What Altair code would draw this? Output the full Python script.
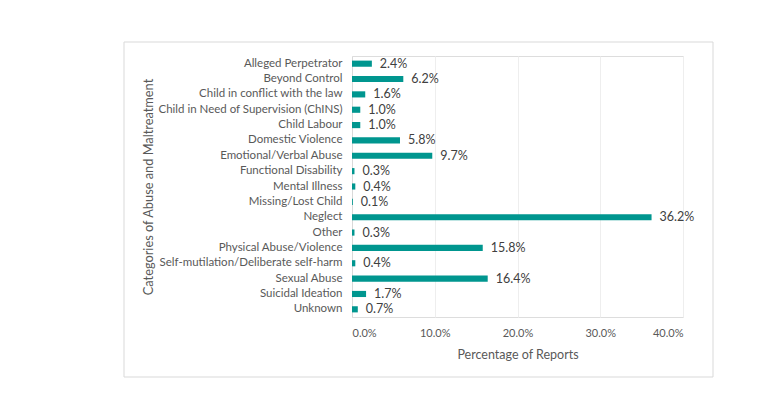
import altair as alt
import pandas as pd

categories = [
    "Alleged Perpetrator", "Beyond Control", "Child in conflict with the law",
    "Child in Need of Supervision (ChINS)", "Child Labour", "Domestic Violence",
    "Emotional/Verbal Abuse", "Functional Disability", "Mental Illness",
    "Missing/Lost Child", "Neglect", "Other", "Physical Abuse/Violence",
    "Self-mutilation/Deliberate self-harm", "Sexual Abuse", "Suicidal Ideation",
    "Unknown",
]
percentages = [2.4, 6.2, 1.6, 1.0, 1.0, 5.8, 9.7, 0.3, 0.4, 0.1, 36.2, 0.3, 15.8, 0.4, 16.4, 1.7, 0.7]
x_ticks = [0, 10, 20, 30, 40]

df = pd.DataFrame({"category": categories, "pct": [p / 100 for p in percentages]})

FONT = "Lato"
TEAL = "#00968F"
GRAY = "#595959"

W, H = 331, 261

border = alt.Chart(alt.Data(values=[{"a": 1}])).mark_rect(
    filled=False, stroke="#d9d9d9", strokeWidth=1
).encode(
    x=alt.value(-228), x2=alt.value(361), y=alt.value(-14), y2=alt.value(321)
)

base = alt.Chart(df).encode(
    y=alt.Y(
        "category:N", sort=categories,
        scale=alt.Scale(paddingInner=0.6, paddingOuter=0.3),
        axis=alt.Axis(
            title="Categories of Abuse and Maltreatment",
            labelFont=FONT, labelFontSize=11.5, labelColor=GRAY, labelPadding=10,
            labelLimit=400,
            ticks=False, domain=True, domainColor="#d9d9d9",
            titleFont=FONT, titleFontSize=12.8, titleColor=GRAY, titleFontWeight="normal",
            titleX=-204, titleY=H / 2, titleAngle=-90, titleAlign="center", titleBaseline="middle",
        ),
    ),
    x=alt.X(
        "pct:Q",
        scale=alt.Scale(domain=[0, 0.4], nice=False),
        axis=alt.Axis(
            title="Percentage of Reports", format=".1%",
            values=[t / 100 for t in x_ticks],
            labelFont=FONT, labelFontSize=11, labelColor=GRAY, labelPadding=10,
            ticks=False, domain=False, grid=True, gridColor="#eeeeee",
            titleFont=FONT, titleFontSize=12.5, titleColor=GRAY, titleFontWeight="normal",
            titleY=37, titleBaseline="middle",
        ),
    ),
)

bars = base.mark_bar(color=TEAL)
labels = base.mark_text(
    align="left", baseline="middle", dx=8, font=FONT, fontSize=12.5, color="#404040"
).encode(text=alt.Text("pct:Q", format=".1%"))

chart = alt.layer(bars, labels, border).properties(
    width=W, height=H,
    autosize=alt.AutoSizeParams(type="none"),
    padding={"left": 344, "top": 48, "right": 80, "bottom": 69},
).configure_view(stroke=None).configure(background="white")

chart.save("out.html", embed_options={"renderer": "svg", "actions": False})
